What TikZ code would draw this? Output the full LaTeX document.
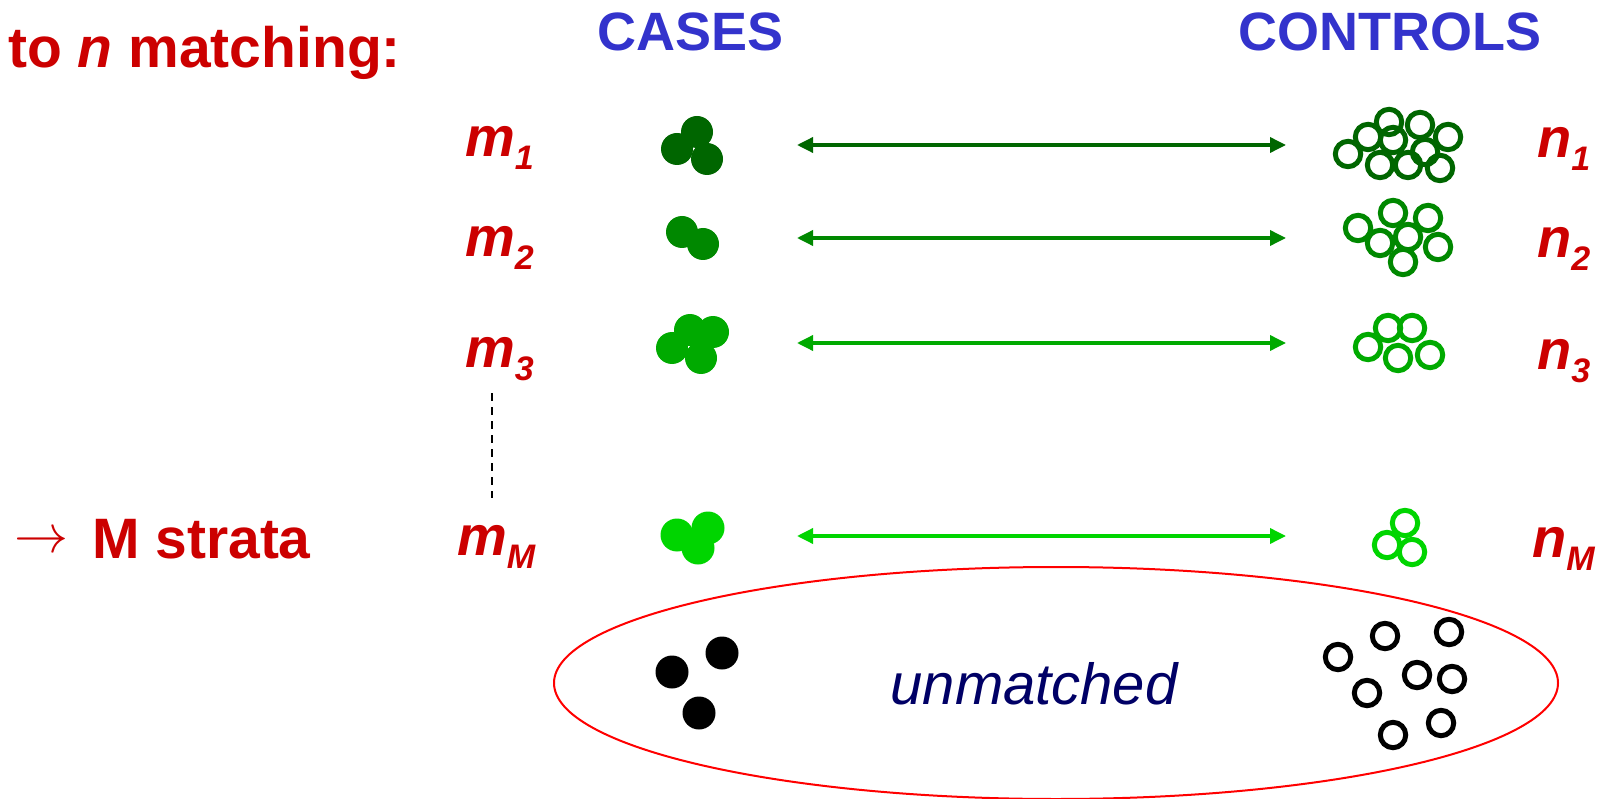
\documentclass[tikz,border=0pt]{standalone}
\usepackage{fontspec}
\setmainfont{Liberation Sans}
\usetikzlibrary{arrows.meta}
\definecolor{tred}{HTML}{CC0000}
\definecolor{tblue}{HTML}{3333CC}
\definecolor{tnavy}{HTML}{000066}
\definecolor{gA}{HTML}{006600}
\definecolor{gB}{HTML}{008800}
\definecolor{gC}{HTML}{00AA00}
\definecolor{gD}{HTML}{00D500}
\newcommand\lbsub[2]{#1\raisebox{-13pt}{\fontsize{34}{36}\selectfont #2}}
\begin{document}
\begin{tikzpicture}[x=1pt,y=-1pt,
  lbl/.style={inner sep=0pt, anchor=base west, text=tred, font=\fontsize{56}{60}\selectfont\bfseries\itshape},
  heading/.style={inner sep=0pt, anchor=base, text=tblue, font=\fontsize{54}{60}\selectfont\bfseries},
  link/.style={draw=#1, line width=3.5pt, {Triangle[length=16pt,width=15pt]}-{Triangle[length=16pt,width=15pt]}},
  fdot/.style={fill=#1},
  odot/.style={draw=#1, line width=5pt},
]
\useasboundingbox (0,0) rectangle (1600,799);

% headings
\node[inner sep=0pt, anchor=base west, text=tred, font=\fontsize{57}{60}\selectfont\bfseries] (title) at (8,68) {to \textit{n} matching:};
\node[heading] (cases) at (691,51) {CASES};
\node[heading] (controls) at (1390,51) {CONTROLS};

% M strata
\node[inner sep=0pt, anchor=center, text=tred] (sarrow) at (41,543) {\resizebox{54pt}{!}{$\rightarrow$}};
\node[inner sep=0pt, anchor=base west, text=tred, font=\fontsize{57}{60}\selectfont\bfseries] (mstrata) at (92,558) {M strata};

% row labels
\node[lbl] (m1) at (465,157) {\lbsub{m}{1}};
\node[lbl] (m2) at (465,257) {\lbsub{m}{2}};
\node[lbl] (m3) at (465,367) {\lbsub{m}{3}};
\node[lbl] (mM) at (457,555) {\lbsub{m}{M}};
\node[lbl] (n1) at (1537,158) {\lbsub{n}{1}};
\node[lbl] (n2) at (1537,258) {\lbsub{n}{2}};
\node[lbl] (n3) at (1537,370) {\lbsub{n}{3}};
\node[lbl] (nM) at (1532,557) {\lbsub{n}{M}};

% dashed continuation
\coordinate (dtop) at (492,393);
\coordinate (dbot) at (492,498);
\draw[line width=2pt, dash pattern=on 8pt off 6pt] (dtop) -- (dbot);

% arrows
\coordinate (a1l) at (797,145); \coordinate (a1r) at (1286,145);
\coordinate (a2l) at (797,238); \coordinate (a2r) at (1286,238);
\coordinate (a3l) at (797,343); \coordinate (a3r) at (1286,343);
\coordinate (aMl) at (797,536); \coordinate (aMr) at (1286,536);
\draw[link=gA] (a1l) -- (a1r);
\draw[link=gB] (a2l) -- (a2r);
\draw[link=gC] (a3l) -- (a3r);
\draw[link=gD] (aMl) -- (aMr);

% cases (filled)
\foreach \p in {(697,132),(677,149),(707,159)} \fill[fdot=gA] \p circle (16);
\foreach \p in {(682,232),(703,244)} \fill[fdot=gB] \p circle (16);
\foreach \p in {(690,330),(713,332),(672,348),(701,358)} \fill[fdot=gC] \p circle (16);
\foreach \p in {(677,535),(708,528),(698,548)} \fill[fdot=gD] \p circle (16.5);

% controls (open)
\foreach \p in {(1348,154),(1368,137),(1389,122),(1393,140),(1420,125),(1448,137),(1380,165),(1408,165),(1425,152),(1440,168)}
  \draw[odot=gA] \p circle (12.7);
\foreach \p in {(1358,228),(1393,213),(1428,218),(1380,243),(1408,237),(1438,247),(1403,262)}
  \draw[odot=gB] \p circle (12.7);
\foreach \p in {(1388,328),(1412,328),(1368,347),(1398,358),(1430,355)}
  \draw[odot=gC] \p circle (12.7);
\foreach \p in {(1405,523),(1387,545),(1412,552)}
  \draw[odot=gD] \p circle (12.7);

% unmatched
\draw[red, line width=2pt] (1056,683) ellipse [x radius=502, y radius=116];
\node[inner sep=0pt, anchor=base, text=tnavy, font=\fontsize{58}{60}\selectfont\itshape] (unm) at (1034,704) {unmatched};
\foreach \p in {(672,672),(722,653),(699,713)} \fill[fdot=black] \p circle (16.5);
\foreach \p in {(1338,657),(1385,636),(1449,632),(1417,675),(1367,693),(1452,679),(1393,735),(1441,723)}
  \draw[odot=black] \p circle (12.7);
\end{tikzpicture}
\end{document}
